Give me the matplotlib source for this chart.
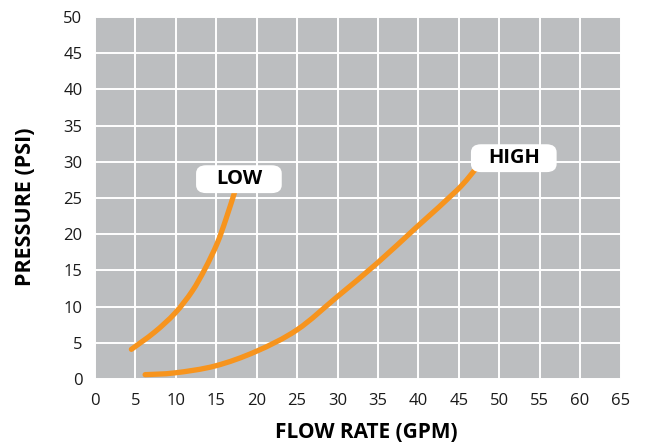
import matplotlib
matplotlib.use("Agg")
import matplotlib.pyplot as plt
import numpy as np
from matplotlib.path import Path
from matplotlib.patches import PathPatch, FancyBboxPatch

# Data
low_flow = [4.5, 7.4, 9.9, 12.0, 13.6, 15.1, 16.2, 17.3]
low_pressure = [4.1, 6.5, 9.1, 12.1, 15.2, 18.7, 22.1, 25.9]

high_flow = [6.2, 9.9, 14.85, 19.9, 25.0, 30.0, 34.9, 39.8, 44.8, 47.0]
high_pressure = [0.6, 0.85, 1.8, 3.8, 6.8, 11.4, 16.0, 21.0, 26.1, 28.9]

x_ticks = list(range(0, 70, 5))
y_ticks = list(range(0, 55, 5))

series_labels = ["LOW", "HIGH"]
label_pos = [(17.8, 27.6), (51.8, 30.5)]

plt.rcParams['font.family'] = ['Open Sans', 'DejaVu Sans']

fig = plt.figure(figsize=(6.45, 4.43), dpi=100)
ax = fig.add_axes([95/645, 64/443, 525.5/645, 362/443])
ax.set_facecolor('#BCBEC0')
ax.set_xlim(0, 65)
ax.set_ylim(0, 50)
ax.set_xticks(x_ticks)
ax.set_yticks(y_ticks)
ax.grid(True, color='white', linewidth=1.4)
ax.set_axisbelow(True)
for s in ax.spines.values():
    s.set_visible(False)
ax.tick_params(length=0, labelsize=12, colors='#1a1a1a')
ax.tick_params(axis='y', pad=9)
ax.tick_params(axis='x', pad=10)

orange = '#F7941D'


def smooth_path(xs, ys):
    """Cubic Bezier path through the points (Catmull-Rom style tangents)."""
    p = np.column_stack([xs, ys]).astype(float)
    n = len(p)
    verts = [p[0]]
    codes = [Path.MOVETO]
    for i in range(n - 1):
        p0 = p[i - 1] if i > 0 else p[i]
        p1, p2 = p[i], p[i + 1]
        p3 = p[i + 2] if i + 2 < n else p[i + 1]
        c1 = p1 + (p2 - p0) / 6.0
        c2 = p2 - (p3 - p1) / 6.0
        verts += [c1, c2, p2]
        codes += [Path.CURVE4] * 3
    return Path(verts, codes)


for xs, ys in [(low_flow, low_pressure), (high_flow, high_pressure)]:
    patch = PathPatch(smooth_path(xs, ys), fc='none', ec=orange, lw=3.8,
                      capstyle='round', joinstyle='round', zorder=3)
    ax.add_patch(patch)

box_w, box_h = 10.6, 3.85
asp = (362 / 50) ** -1 * (525.5 / 65)
for lab, (x, y) in zip(series_labels, label_pos):
    box = FancyBboxPatch((x - box_w / 2, y - box_h / 2), box_w, box_h,
                         boxstyle='round,pad=0,rounding_size=1.25',
                         mutation_aspect=1 / asp, fc='white', ec='none', zorder=4)
    ax.add_patch(box)
    ax.text(x, y, lab, ha='center', va='center', fontsize=14.5, fontweight='bold',
            color='black', zorder=5)

ax.set_xlabel('FLOW RATE (GPM)', fontsize=15, fontweight='bold', va='center')
ax.xaxis.set_label_coords(0.516, -0.149)
ax.set_ylabel('PRESSURE (PSI)', fontsize=15.5, fontweight='bold', va='center')
ax.yaxis.set_label_coords(-0.133, 0.475)

fig.savefig('out.png', dpi=100)
